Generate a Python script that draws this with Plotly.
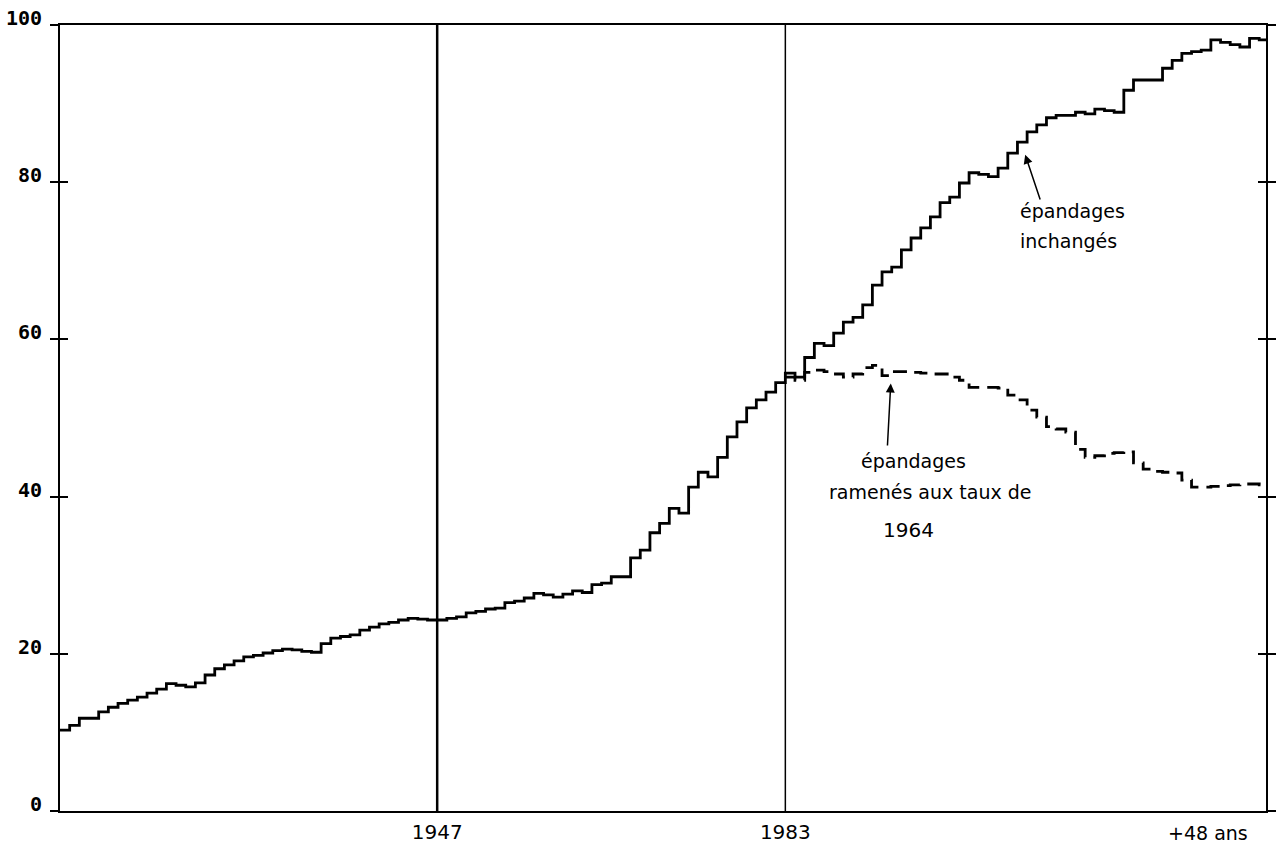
import plotly.graph_objects as go

# ---- data ----
years = list(range(1908, 2034))  # 1908 .. 2033 (last point closes the final step)

solid_values = [
    10.3, 10.9, 11.8, 11.8, 12.6, 13.2, 13.7, 14.1, 14.5, 15.0,   # 1908-1917
    15.5, 16.2, 16.0, 15.8, 16.3, 17.3, 18.1, 18.6, 19.1, 19.6,   # 1918-1927
    19.8, 20.1, 20.4, 20.6, 20.5, 20.3, 20.2, 21.3, 22.0, 22.2,   # 1928-1937
    22.4, 23.0, 23.4, 23.8, 24.0, 24.3, 24.5, 24.4, 24.3, 24.3,   # 1938-1947
    24.5, 24.7, 25.2, 25.4, 25.7, 25.8, 26.5, 26.7, 27.1, 27.7,   # 1948-1957
    27.5, 27.2, 27.6, 28.0, 27.8, 28.8, 29.0, 29.8, 29.8, 32.2,   # 1958-1967
    33.2, 35.4, 36.6, 38.5, 37.9, 41.2, 43.1, 42.5, 45.0, 47.6,   # 1968-1977
    49.5, 51.3, 52.3, 53.3, 54.5, 55.7, 55.2, 57.7, 59.5, 59.2,   # 1978-1987
    60.8, 62.2, 62.8, 64.4, 66.9, 68.6, 69.2, 71.4, 72.9, 74.2,   # 1988-1997
    75.6, 77.4, 78.1, 79.9, 81.2, 81.0, 80.7, 81.8, 83.7, 85.1,   # 1998-2007
    86.4, 87.3, 88.2, 88.5, 88.5, 88.9, 88.7, 89.3, 89.1, 88.9,   # 2008-2017
    91.7, 93.0, 93.0, 93.0, 94.5, 95.5, 96.4, 96.6, 96.8, 98.1,   # 2018-2027
    97.8, 97.5, 97.2, 98.3, 98.1, 98.1,                           # 2028-2033
]

dashed_years = list(range(1983, 2034))
dashed_values = [
    55.2, 54.8, 55.8, 56.1, 55.9, 55.6, 55.2, 55.6, 56.4, 56.7,   # 1983-1992
    55.4, 55.9, 55.9, 55.8, 55.7, 55.6, 55.6, 55.2, 54.8, 53.9,   # 1993-2002
    53.9, 53.9, 53.8, 52.9, 52.3, 51.0, 50.1, 48.9, 48.6, 48.2,   # 2003-2012
    46.0, 45.0, 45.2, 45.5, 45.6, 45.7, 44.3, 43.5, 43.2, 43.1,   # 2013-2022
    43.0, 42.1, 41.2, 41.2, 41.3, 41.4, 41.5, 41.6, 41.6, 41.5,   # 2023-2032
    41.5,                                                         # 2033
]

ref_years = [1947, 1983]
ref_widths = [2.5, 1.5]
x_tick_vals = [1947, 1983]
x_tick_text = ["1947", "1983"]
horizon_year = 2031
horizon_label = "+48 ans"

y_tick_vals = [0, 20, 40, 60, 80, 100]
y_tick_text = ["0", "20", "40", "60", "80", "100"]

x_range = [1908, 2032.7]
y_range = [0, 100]

assert len(years) == len(solid_values)
assert len(dashed_years) == len(dashed_values)

# ---- figure ----
fig = go.Figure()

fig.add_trace(go.Scatter(
    x=years, y=solid_values, mode="lines", line_shape="hv",
    line=dict(color="black", width=2.8), showlegend=False, hoverinfo="skip",
))
fig.add_trace(go.Scatter(
    x=dashed_years, y=dashed_values, mode="lines", line_shape="hv",
    line=dict(color="black", width=2.8, dash="14px,8px"),
    showlegend=False, hoverinfo="skip",
))
# invisible trace to activate the second (tick-only) y axis
fig.add_trace(go.Scatter(x=[x_range[0]], y=[y_range[0]], yaxis="y2", mode="markers",
                         marker=dict(opacity=0), showlegend=False, hoverinfo="skip"))

for yr, w in zip(ref_years, ref_widths):
    fig.add_vline(x=yr, line=dict(color="black", width=w), layer="below")

txt_font = dict(family="DejaVu Sans", size=19, color="black")

# upper annotation
fig.add_annotation(x=2007.1, y=76.3, text="épandages", showarrow=False,
                   xanchor="left", yanchor="middle", font=txt_font)
fig.add_annotation(x=2007.1, y=72.5, text="inchangés", showarrow=False,
                   xanchor="left", yanchor="middle", font=txt_font)
fig.add_annotation(x=2007.8, y=83.5, ax=2009.4, ay=77.6, axref="x", ayref="y",
                   text="", showarrow=True, arrowhead=2, arrowsize=1.2,
                   arrowwidth=1.5, arrowcolor="black")

# lower annotation
fig.add_annotation(x=1996.2, y=44.5, text="épandages", showarrow=False,
                   xanchor="center", yanchor="middle", font=txt_font)
fig.add_annotation(x=1998.0, y=40.6, text="ramenés aux taux de", showarrow=False,
                   xanchor="center", yanchor="middle", font=txt_font)
fig.add_annotation(x=1995.7, y=35.7, text="1964", showarrow=False,
                   xanchor="center", yanchor="middle",
                   font=dict(family="DejaVu Sans", size=20, color="black"))
fig.add_annotation(x=1993.9, y=54.4, ax=1993.55, ay=46.3, axref="x", ayref="y",
                   text="", showarrow=True, arrowhead=2, arrowsize=1.2,
                   arrowwidth=1.5, arrowcolor="black")

# horizon label under the axis
fig.add_annotation(x=horizon_year, y=0, yref="paper", text=horizon_label,
                   showarrow=False, xanchor="right", yanchor="top", yshift=-9,
                   font=dict(family="DejaVu Sans", size=19, color="black"))

fig.update_layout(
    width=1281, height=845,
    margin=dict(l=60, r=15, t=25, b=34, autoexpand=False),
    plot_bgcolor="white", paper_bgcolor="white",
    xaxis=dict(
        range=x_range, showgrid=False, zeroline=False, automargin=False,
        tickmode="array", tickvals=x_tick_vals, ticktext=x_tick_text,
        ticks="", showline=True, linecolor="black", linewidth=2, mirror=True,
        tickfont=dict(family="DejaVu Sans", size=20, color="black"),
        ticklabelstandoff=2,
    ),
    yaxis=dict(
        range=y_range, showgrid=False, zeroline=False, automargin=False,
        tickmode="array", tickvals=y_tick_vals, ticktext=y_tick_text,
        ticks="outside", ticklen=8, tickwidth=1.5, tickcolor="black",
        showline=True, linecolor="black", linewidth=2, mirror="ticks",
        tickfont=dict(family="DejaVu Sans Mono", size=20, color="black", weight="bold"),
        ticklabelshift=-7, ticklabelstandoff=4,
    ),
    yaxis2=dict(
        range=y_range, overlaying="y", side="left", showgrid=False, zeroline=False,
        automargin=False,
        tickmode="array", tickvals=y_tick_vals, showticklabels=False,
        ticks="inside", ticklen=8, tickwidth=1.5, tickcolor="black",
        showline=False, mirror="ticks",
    ),
)

fig.write_html("out.html",
               config={"displayModeBar": False},
               post_script="document.body.style.margin='0px';document.body.style.overflow='hidden';")
